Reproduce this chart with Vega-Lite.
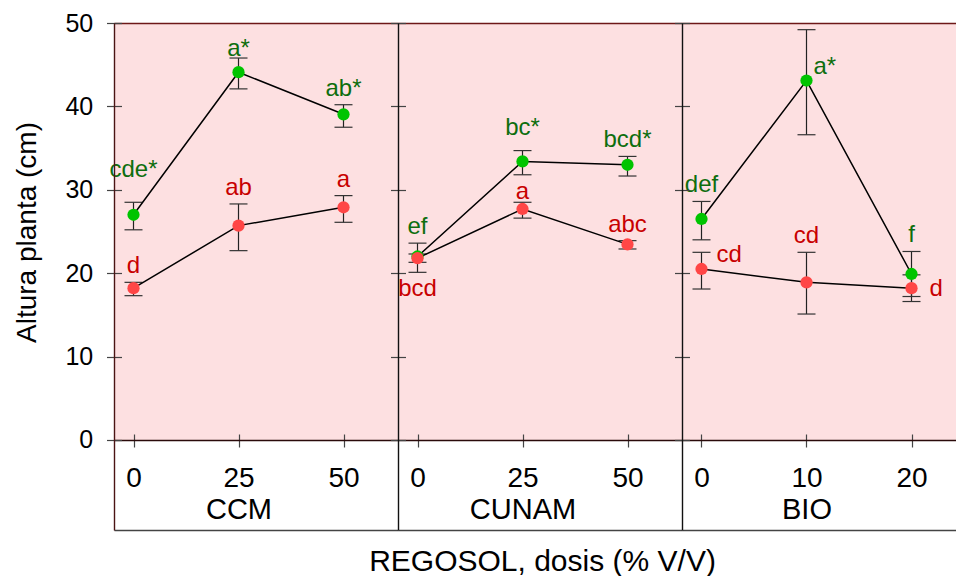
{
  "$schema": "https://vega.github.io/schema/vega-lite/v6.json",
  "padding": {"left": 13, "top": 11, "right": 0, "bottom": 0},
  "background": "white",
  "spacing": 0,
  "bounds": "flush",
  "config": {
    "font": "Liberation Sans",
    "view": {"stroke": null},
    "axis": {"zindex": 1, "labelColor": "#000", "titleColor": "#000", "titleFontWeight": "normal", "grid": false, "labelFlush": false, "labelOverlap": false, "tickColor": "#444", "labelFont": "Liberation Sans", "titleFont": "Liberation Sans"}
  },
  "datasets": {
    "altura": [
      {"panel": "CCM", "serie": "verde", "dose": 0, "mean": 27.0, "lo": 25.2, "hi": 28.5, "label": "cde*"},
      {"panel": "CCM", "serie": "verde", "dose": 25, "mean": 44.1, "lo": 42.1, "hi": 45.8, "label": "a*"},
      {"panel": "CCM", "serie": "verde", "dose": 50, "mean": 39.05, "lo": 37.5, "hi": 40.2, "label": "ab*"},
      {"panel": "CCM", "serie": "roja", "dose": 0, "mean": 18.2, "lo": 17.3, "hi": 18.9, "label": "d"},
      {"panel": "CCM", "serie": "roja", "dose": 25, "mean": 25.7, "lo": 22.7, "hi": 28.3, "label": "ab"},
      {"panel": "CCM", "serie": "roja", "dose": 50, "mean": 27.9, "lo": 26.1, "hi": 29.3, "label": "a"},
      {"panel": "CUNAM", "serie": "verde", "dose": 0, "mean": 22.0, "lo": 20.1, "hi": 23.6, "label": "ef"},
      {"panel": "CUNAM", "serie": "verde", "dose": 25, "mean": 33.4, "lo": 31.8, "hi": 34.7, "label": "bc*"},
      {"panel": "CUNAM", "serie": "verde", "dose": 50, "mean": 33.0, "lo": 31.65, "hi": 34.0, "label": "bcd*"},
      {"panel": "CUNAM", "serie": "roja", "dose": 0, "mean": 21.8, "lo": 21.3, "hi": 22.3, "label": "bcd"},
      {"panel": "CUNAM", "serie": "roja", "dose": 25, "mean": 27.7, "lo": 26.6, "hi": 28.5, "label": "a"},
      {"panel": "CUNAM", "serie": "roja", "dose": 50, "mean": 23.45, "lo": 22.9, "hi": 23.9, "label": "abc"},
      {"panel": "BIO", "serie": "verde", "dose": 0, "mean": 26.5, "lo": 24.0, "hi": 28.6, "label": "def"},
      {"panel": "BIO", "serie": "verde", "dose": 10, "mean": 43.1, "lo": 36.6, "hi": 49.2, "label": "a*"},
      {"panel": "BIO", "serie": "verde", "dose": 20, "mean": 19.9, "lo": 17.2, "hi": 22.6, "label": "f"},
      {"panel": "BIO", "serie": "roja", "dose": 0, "mean": 20.5, "lo": 18.1, "hi": 22.5, "label": "cd"},
      {"panel": "BIO", "serie": "roja", "dose": 10, "mean": 18.9, "lo": 15.1, "hi": 22.5, "label": "cd"},
      {"panel": "BIO", "serie": "roja", "dose": 20, "mean": 18.2, "lo": 16.6, "hi": 19.8, "label": "d"}
    ]
  },
  "hconcat": [
    {
      "width": 284, "height": 507,
      "data": {"name": "altura"},
      "transform": [{"filter": "datum.panel == 'CCM'"}],
      "resolve": {"axis": {"x": "independent", "y": "independent"}},
      "layer": [
        {
          "mark": {"type": "rect", "fill": "#fde0e1"},
          "encoding": {
            "x": {"datum": -4.643, "type": "quantitative", "scale": {"domain": [-4.643, 62.976], "nice": false, "zero": false},
              "axis": {"zindex": 2, "orient": "bottom", "offset": -96, "tickSize": 13, "tickWidth": 1.2, "domain": false, "values": [0, 25, 50], "labelFontSize": 28, "labelBaseline": "alphabetic", "labelPadding": 39.7, "title": "CCM", "titleFontSize": 29, "titleBaseline": "alphabetic", "titleX": 124.5, "titleY": 84.3}},
            "x2": {"datum": 62.976},
            "y": {"datum": 0, "type": "quantitative", "scale": {"domain": [-10.8, 50], "nice": false, "zero": false},
              "axis": {"zindex": 2, "orient": "left", "offset": -7.5, "tickSize": 15, "tickWidth": 1.2, "domain": false, "values": [0, 10, 20, 30, 40, 50], "labelFontSize": 25, "labelPadding": 13.8, "title": "Altura planta (cm)", "titleFontSize": 28, "titleBaseline": "alphabetic", "titleX": -86.5, "titleY": 209}},
            "y2": {"datum": 50}
          }
        },
        {
          "mark": {"type": "rule", "color": "#222", "strokeWidth": 1.2},
          "encoding": {
            "x": {"field": "dose", "type": "quantitative", "axis": {"zindex": 2, "orient": "bottom", "offset": -90, "domain": true, "domainColor": "#2a0a0a", "domainWidth": 1.6, "ticks": false, "labels": false, "title": null}},
            "y": {"field": "lo", "type": "quantitative", "axis": {"zindex": 2, "orient": "left", "domain": true, "domainColor": "#4a1414", "domainWidth": 1.4, "ticks": false, "labels": false, "title": null}},
            "y2": {"field": "hi"}
          }
        },
        {
          "mark": {"type": "tick", "orient": "horizontal", "color": "#333", "size": 18, "thickness": 1.2, "opacity": 1},
          "encoding": {
            "x": {"field": "dose", "type": "quantitative", "axis": {"zindex": 2, "orient": "bottom", "domain": true, "domainColor": "#444", "domainWidth": 1.3, "ticks": false, "labels": false, "title": null}},
            "y": {"field": "lo", "type": "quantitative", "axis": null}
          }
        },
        {
          "mark": {"type": "tick", "orient": "horizontal", "color": "#333", "size": 18, "thickness": 1.2, "opacity": 1},
          "encoding": {
            "x": {"field": "dose", "type": "quantitative", "axis": {"zindex": 2, "orient": "top", "domain": true, "domainColor": "#6e1818", "domainWidth": 1.5, "ticks": false, "labels": false, "title": null}},
            "y": {"field": "hi", "type": "quantitative", "axis": null}
          }
        },
        {
          "mark": {"type": "line", "color": "#000", "strokeWidth": 1.5},
          "encoding": {
            "x": {"field": "dose", "type": "quantitative", "axis": null},
            "y": {"field": "mean", "type": "quantitative", "axis": null},
            "detail": {"field": "serie"}
          }
        },
        {
          "mark": {"type": "circle", "size": 150, "opacity": 1},
          "encoding": {
            "x": {"field": "dose", "type": "quantitative", "axis": null},
            "y": {"field": "mean", "type": "quantitative", "axis": null},
            "fill": {"field": "serie", "type": "nominal", "scale": {"domain": ["verde", "roja"], "range": ["#00c400", "#ff4646"]}, "legend": null}
          }
        },
        {
          "transform": [{"filter": "!(datum.serie == 'verde' && datum.dose <= 25)"}],
          "mark": {"type": "text", "fontSize": 24, "baseline": "alphabetic", "dy": -9},
          "encoding": {
            "x": {"field": "dose", "type": "quantitative", "axis": null},
            "y": {"field": "hi", "type": "quantitative", "axis": null},
            "text": {"field": "label"},
            "color": {"field": "serie", "type": "nominal", "scale": {"domain": ["verde", "roja"], "range": ["#0e6e0e", "#c80000"]}, "legend": null}
          }
        },
        {
          "transform": [{"filter": "datum.serie == 'verde' && datum.dose == 25"}],
          "mark": {"type": "text", "fontSize": 24, "baseline": "alphabetic", "dy": -2},
          "encoding": {
            "x": {"field": "dose", "type": "quantitative", "axis": null},
            "y": {"field": "hi", "type": "quantitative", "axis": null},
            "text": {"field": "label"},
            "color": {"field": "serie", "type": "nominal", "legend": null}
          }
        },
        {
          "transform": [{"filter": "datum.serie == 'verde' && datum.dose == 0"}],
          "mark": {"type": "text", "fontSize": 24, "baseline": "alphabetic", "dy": -25},
          "encoding": {
            "x": {"field": "dose", "type": "quantitative", "axis": null},
            "y": {"field": "hi", "type": "quantitative", "axis": null},
            "text": {"field": "label"},
            "color": {"field": "serie", "type": "nominal", "legend": null}
          }
        }
      ]
    },
    {
      "width": 284, "height": 507,
      "data": {"name": "altura"},
      "transform": [{"filter": "datum.panel == 'CUNAM'"}],
      "resolve": {"axis": {"x": "independent", "y": "independent"}},
      "layer": [
        {
          "mark": {"type": "rect", "fill": "#fde0e1"},
          "encoding": {
            "x": {"datum": -4.643, "type": "quantitative", "scale": {"domain": [-4.643, 62.976], "nice": false, "zero": false},
              "axis": {"zindex": 2, "orient": "bottom", "offset": -96, "tickSize": 13, "tickWidth": 1.2, "domain": false, "values": [0, 25, 50], "labelFontSize": 28, "labelBaseline": "alphabetic", "labelPadding": 39.7, "title": "CUNAM", "titleFontSize": 29, "titleBaseline": "alphabetic", "titleX": 124.5, "titleY": 84.3}},
            "x2": {"datum": 62.976},
            "y": {"datum": 0, "type": "quantitative", "scale": {"domain": [-10.8, 50], "nice": false, "zero": false},
              "axis": {"zindex": 2, "orient": "left", "offset": -7.5, "tickSize": 15, "tickWidth": 1.2, "domain": false, "values": [0, 10, 20, 30, 40, 50], "labels": false, "title": null}},
            "y2": {"datum": 50}
          }
        },
        {
          "mark": {"type": "rule", "color": "#222", "strokeWidth": 1.2},
          "encoding": {
            "x": {"field": "dose", "type": "quantitative", "axis": {"zindex": 2, "orient": "bottom", "offset": -90, "domain": true, "domainColor": "#2a0a0a", "domainWidth": 1.6, "ticks": false, "labels": false, "title": null}},
            "y": {"field": "lo", "type": "quantitative", "axis": {"zindex": 2, "orient": "left", "domain": true, "domainColor": "#111", "domainWidth": 1.4, "ticks": false, "labels": false, "title": null}},
            "y2": {"field": "hi"}
          }
        },
        {
          "mark": {"type": "tick", "orient": "horizontal", "color": "#333", "size": 18, "thickness": 1.2, "opacity": 1},
          "encoding": {
            "x": {"field": "dose", "type": "quantitative", "axis": {"zindex": 2, "orient": "bottom", "domain": true, "domainColor": "#444", "domainWidth": 1.3, "ticks": false, "labels": false, "title": "REGOSOL, dosis (% V/V)", "titleFontSize": 30, "titleBaseline": "alphabetic", "titleX": 144, "titleY": 40}},
            "y": {"field": "lo", "type": "quantitative", "axis": null}
          }
        },
        {
          "mark": {"type": "tick", "orient": "horizontal", "color": "#333", "size": 18, "thickness": 1.2, "opacity": 1},
          "encoding": {
            "x": {"field": "dose", "type": "quantitative", "axis": {"zindex": 2, "orient": "top", "domain": true, "domainColor": "#6e1818", "domainWidth": 1.5, "ticks": false, "labels": false, "title": null}},
            "y": {"field": "hi", "type": "quantitative", "axis": null}
          }
        },
        {
          "mark": {"type": "line", "color": "#000", "strokeWidth": 1.5},
          "encoding": {
            "x": {"field": "dose", "type": "quantitative", "axis": null},
            "y": {"field": "mean", "type": "quantitative", "axis": null},
            "detail": {"field": "serie"}
          }
        },
        {
          "mark": {"type": "circle", "size": 150, "opacity": 1},
          "encoding": {
            "x": {"field": "dose", "type": "quantitative", "axis": null},
            "y": {"field": "mean", "type": "quantitative", "axis": null},
            "fill": {"field": "serie", "type": "nominal", "legend": null}
          }
        },
        {
          "transform": [{"filter": "(datum.serie == 'verde' && datum.dose != 25) || (datum.serie == 'roja' && datum.dose == 50)"}],
          "mark": {"type": "text", "fontSize": 24, "baseline": "alphabetic", "dy": -9},
          "encoding": {
            "x": {"field": "dose", "type": "quantitative", "axis": null},
            "y": {"field": "hi", "type": "quantitative", "axis": null},
            "text": {"field": "label"},
            "color": {"field": "serie", "type": "nominal", "legend": null}
          }
        },
        {
          "transform": [{"filter": "datum.serie == 'verde' && datum.dose == 25"}],
          "mark": {"type": "text", "fontSize": 24, "baseline": "alphabetic", "dy": -16},
          "encoding": {
            "x": {"field": "dose", "type": "quantitative", "axis": null},
            "y": {"field": "hi", "type": "quantitative", "axis": null},
            "text": {"field": "label"},
            "color": {"field": "serie", "type": "nominal", "legend": null}
          }
        },
        {
          "transform": [{"filter": "datum.serie == 'roja' && datum.dose == 25"}],
          "mark": {"type": "text", "fontSize": 24, "baseline": "alphabetic", "dy": -3},
          "encoding": {
            "x": {"field": "dose", "type": "quantitative", "axis": null},
            "y": {"field": "hi", "type": "quantitative", "axis": null},
            "text": {"field": "label"},
            "color": {"field": "serie", "type": "nominal", "legend": null}
          }
        },
        {
          "transform": [{"filter": "datum.serie == 'roja' && datum.dose == 0"}],
          "mark": {"type": "text", "fontSize": 24, "baseline": "alphabetic", "dy": 38},
          "encoding": {
            "x": {"field": "dose", "type": "quantitative", "axis": null},
            "y": {"field": "mean", "type": "quantitative", "axis": null},
            "text": {"field": "label"},
            "color": {"field": "serie", "type": "nominal", "legend": null}
          }
        }
      ]
    },
    {
      "width": 274, "height": 507,
      "data": {"name": "altura"},
      "transform": [{"filter": "datum.panel == 'BIO'"}],
      "resolve": {"axis": {"x": "independent", "y": "independent"}},
      "layer": [
        {
          "mark": {"type": "rect", "fill": "#fde0e1"},
          "encoding": {
            "x": {"datum": -1.857, "type": "quantitative", "scale": {"domain": [-1.857, 24.238], "nice": false, "zero": false},
              "axis": {"zindex": 2, "orient": "bottom", "offset": -96, "tickSize": 13, "tickWidth": 1.2, "domain": false, "values": [0, 10, 20], "labelFontSize": 28, "labelBaseline": "alphabetic", "labelPadding": 39.7, "title": "BIO", "titleFontSize": 29, "titleBaseline": "alphabetic", "titleX": 124.5, "titleY": 84.3}},
            "x2": {"datum": 24.238},
            "y": {"datum": 0, "type": "quantitative", "scale": {"domain": [-10.8, 50], "nice": false, "zero": false},
              "axis": {"zindex": 2, "orient": "left", "offset": -7.5, "tickSize": 15, "tickWidth": 1.2, "domain": false, "values": [0, 10, 20, 30, 40, 50], "labels": false, "title": null}},
            "y2": {"datum": 50}
          }
        },
        {
          "mark": {"type": "rule", "color": "#222", "strokeWidth": 1.2},
          "encoding": {
            "x": {"field": "dose", "type": "quantitative", "axis": {"zindex": 2, "orient": "bottom", "offset": -90, "domain": true, "domainColor": "#2a0a0a", "domainWidth": 1.6, "ticks": false, "labels": false, "title": null}},
            "y": {"field": "lo", "type": "quantitative", "axis": {"zindex": 2, "orient": "left", "domain": true, "domainColor": "#111", "domainWidth": 1.4, "ticks": false, "labels": false, "title": null}},
            "y2": {"field": "hi"}
          }
        },
        {
          "mark": {"type": "tick", "orient": "horizontal", "color": "#333", "size": 18, "thickness": 1.2, "opacity": 1},
          "encoding": {
            "x": {"field": "dose", "type": "quantitative", "axis": {"zindex": 2, "orient": "bottom", "domain": true, "domainColor": "#444", "domainWidth": 1.3, "ticks": false, "labels": false, "title": null}},
            "y": {"field": "lo", "type": "quantitative", "axis": null}
          }
        },
        {
          "mark": {"type": "tick", "orient": "horizontal", "color": "#333", "size": 18, "thickness": 1.2, "opacity": 1},
          "encoding": {
            "x": {"field": "dose", "type": "quantitative", "axis": {"zindex": 2, "orient": "top", "domain": true, "domainColor": "#6e1818", "domainWidth": 1.5, "ticks": false, "labels": false, "title": null}},
            "y": {"field": "hi", "type": "quantitative", "axis": null}
          }
        },
        {
          "mark": {"type": "line", "color": "#000", "strokeWidth": 1.5},
          "encoding": {
            "x": {"field": "dose", "type": "quantitative", "axis": null},
            "y": {"field": "mean", "type": "quantitative", "axis": null},
            "detail": {"field": "serie"}
          }
        },
        {
          "mark": {"type": "circle", "size": 150, "opacity": 1},
          "encoding": {
            "x": {"field": "dose", "type": "quantitative", "axis": null},
            "y": {"field": "mean", "type": "quantitative", "axis": null},
            "fill": {"field": "serie", "type": "nominal", "legend": null}
          }
        },
        {
          "transform": [{"filter": "(datum.serie == 'verde' && datum.dose != 10) || (datum.serie == 'roja' && datum.dose == 10)"}],
          "mark": {"type": "text", "fontSize": 24, "baseline": "alphabetic", "dy": -9},
          "encoding": {
            "x": {"field": "dose", "type": "quantitative", "axis": null},
            "y": {"field": "hi", "type": "quantitative", "axis": null},
            "text": {"field": "label"},
            "color": {"field": "serie", "type": "nominal", "legend": null}
          }
        },
        {
          "transform": [{"filter": "datum.serie == 'verde' && datum.dose == 10"}],
          "mark": {"type": "text", "fontSize": 24, "baseline": "alphabetic", "align": "left", "dx": 7, "dy": -7},
          "encoding": {
            "x": {"field": "dose", "type": "quantitative", "axis": null},
            "y": {"field": "mean", "type": "quantitative", "axis": null},
            "text": {"field": "label"},
            "color": {"field": "serie", "type": "nominal", "legend": null}
          }
        },
        {
          "transform": [{"filter": "datum.serie == 'roja' && datum.dose == 0"}],
          "mark": {"type": "text", "fontSize": 24, "baseline": "alphabetic", "align": "left", "dx": 15, "dy": -7},
          "encoding": {
            "x": {"field": "dose", "type": "quantitative", "axis": null},
            "y": {"field": "mean", "type": "quantitative", "axis": null},
            "text": {"field": "label"},
            "color": {"field": "serie", "type": "nominal", "legend": null}
          }
        },
        {
          "transform": [{"filter": "datum.serie == 'roja' && datum.dose == 20"}],
          "mark": {"type": "text", "fontSize": 24, "baseline": "alphabetic", "align": "left", "dx": 18, "dy": 8},
          "encoding": {
            "x": {"field": "dose", "type": "quantitative", "axis": null},
            "y": {"field": "mean", "type": "quantitative", "axis": null},
            "text": {"field": "label"},
            "color": {"field": "serie", "type": "nominal", "legend": null}
          }
        }
      ]
    }
  ]
}
